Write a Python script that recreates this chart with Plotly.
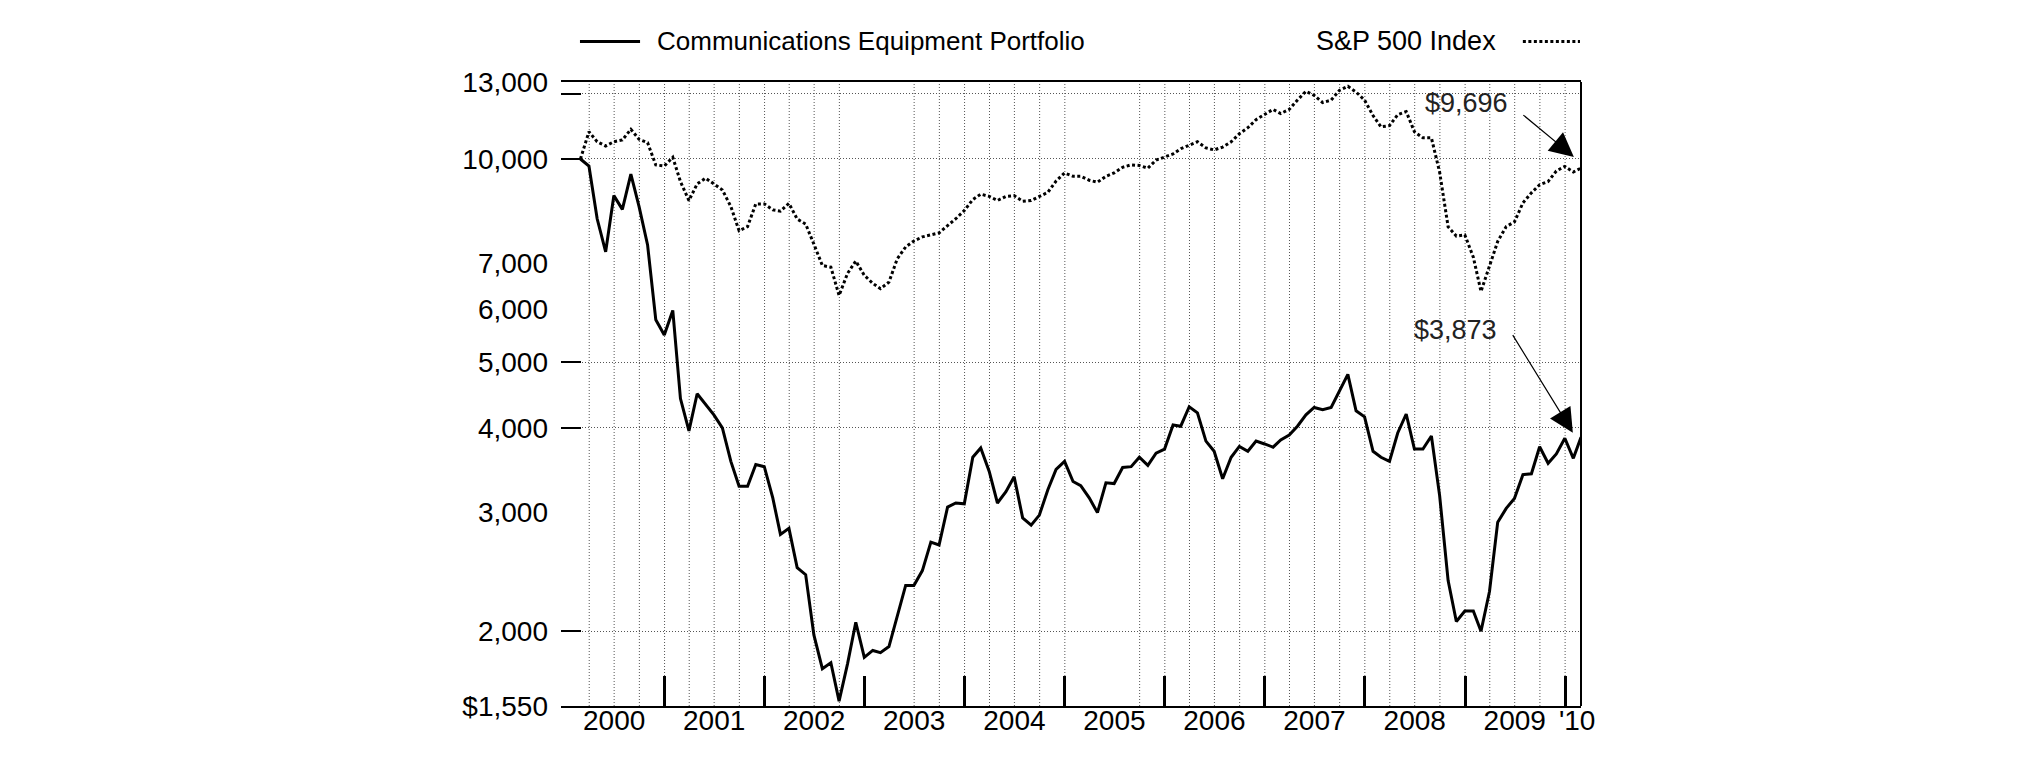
import pandas as pd
import plotly.graph_objects as go

# ---------------- data ----------------
start_month = "2000-02-01"
n_months = 121

portfolio = [
    10000, 9761, 8157, 7287, 8827, 8422, 9495, 8503, 7460, 5781, 5487, 5968,
    4419, 3958, 4492, 4328, 4181, 4000, 3568, 3277, 3277, 3529, 3504, 3150,
    2782, 2840, 2484, 2425, 1975, 1760, 1796, 1576, 1791, 2062, 1829, 1873,
    1859, 1898, 2099, 2338, 2338, 2459, 2709, 2683, 3053, 3096, 3088, 3618,
    3735, 3447, 3096, 3217, 3386, 2943, 2871, 2971, 3240, 3471, 3568, 3331,
    3285, 3151, 2996, 3317, 3308, 3495, 3504, 3618, 3520, 3668, 3720, 4040,
    4022, 4298, 4210, 3823, 3693, 3363, 3618, 3755, 3693, 3823, 3786, 3745,
    3839, 3903, 4022, 4181, 4287, 4256, 4287, 4542, 4799, 4239, 4153, 3693,
    3618, 3568, 3930, 4193, 3720, 3720, 3890, 3175, 2377, 2067, 2143, 2143,
    2000, 2290, 2900, 3040, 3145, 3410, 3420, 3750, 3545, 3660, 3860, 3605,
    3873,
]

sp500 = [
    10000, 10973, 10606, 10452, 10606, 10668, 11064, 10693, 10570, 9798, 9765, 10058,
    9258, 8679, 9185, 9366, 9185, 8999, 8502, 7830, 7943, 8581, 8581, 8407,
    8370, 8595, 8150, 8010, 7480, 6955, 6916, 6281, 6773, 7062, 6727, 6545,
    6427, 6572, 7111, 7409, 7562, 7668, 7721, 7774, 7970, 8157, 8387, 8707,
    8870, 8803, 8681, 8803, 8827, 8657, 8681, 8803, 8925, 9276, 9535, 9428,
    9428, 9301, 9238, 9428, 9535, 9721, 9802, 9780, 9692, 9963, 10062, 10172,
    10356, 10490, 10603, 10385, 10314, 10413, 10603, 10899, 11124, 11436, 11629, 11841,
    11675, 11841, 12222, 12597, 12421, 12121, 12222, 12632, 12810, 12563, 12222, 11596,
    11158, 11204, 11629, 11754, 10973, 10747, 10747, 9561, 7937, 7689, 7721, 7155,
    6367, 6950, 7550, 7940, 8070, 8610, 8910, 9160, 9260, 9600, 9750, 9566,
    9696,
]

series_names = ["Communications Equipment Portfolio", "S&P 500 Index"]
end_labels = ["$3,873", "$9,696"]

y_tick_values = [1550, 2000, 3000, 4000, 5000, 6000, 7000, 10000, 13000]
y_tick_labels = ["$1,550", "2,000", "3,000", "4,000", "5,000", "6,000", "7,000", "10,000", "13,000"]
y_grid_values = [2000, 4000, 5000, 10000, 12500]

year_label_dates = [f"{y}-07-01" for y in range(2000, 2010)] + ["2010-02-14"]
year_labels = [str(y) for y in range(2000, 2010)] + ["'10"]
year_tick_dates = [f"{y}-01-01" for y in range(2001, 2011)]
quarter_dates = [d.strftime("%Y-%m-%d") for d in pd.date_range("2000-04-01", "2010-01-01", freq="QS")]
missing_quarters = ["2003-01-01", "2003-04-01", "2005-04-01", "2005-07-01"]

# ---------------- figure ----------------
dates = pd.date_range(start_month, periods=n_months, freq="MS") + pd.offsets.MonthEnd(0)
FONT = "Liberation Sans, Arial, Helvetica, sans-serif"
DOTS = "3px,2.5px"

fig = go.Figure()
fig.add_trace(go.Scatter(x=dates, y=sp500, mode="lines", name=series_names[1],
                         line=dict(color="black", width=3, dash=DOTS),
                         showlegend=False))
fig.add_trace(go.Scatter(x=dates, y=portfolio, mode="lines", name=series_names[0],
                         line=dict(color="black", width=3),
                         showlegend=False))

shapes = []
for q in quarter_dates:
    if q in missing_quarters:
        continue
    shapes.append(dict(type="line", xref="x", yref="paper", x0=q, x1=q, y0=0, y1=1,
                       line=dict(color="#555", width=1, dash="1px,2px"), layer="below"))
# right frame
shapes.append(dict(type="line", xref="paper", yref="paper", x0=1, x1=1, y0=0, y1=1,
                   line=dict(color="black", width=2)))
# legend samples
shapes.append(dict(type="line", xref="paper", yref="paper", x0=0.0186, x1=0.0775,
                   y0=1.065, y1=1.065, line=dict(color="black", width=3)))
shapes.append(dict(type="line", xref="paper", yref="paper", x0=0.943, x1=0.999,
                   y0=1.065, y1=1.065, line=dict(color="black", width=3, dash=DOTS)))

annotations = [
    dict(xref="paper", yref="paper", x=0.092, y=1.065, text=series_names[0],
         showarrow=False, xanchor="left", yanchor="middle",
         font=dict(family=FONT, size=26, color="black")),
    dict(xref="paper", yref="paper", x=0.9186, y=1.065, text=series_names[1],
         showarrow=False, xanchor="right", yanchor="middle",
         font=dict(family=FONT, size=27, color="black")),
    dict(xref="paper", yref="paper", x=0.888, y=0.966, text=end_labels[1],
         showarrow=False, xanchor="center", yanchor="middle",
         font=dict(family=FONT, size=27, color="#222")),
    dict(xref="paper", yref="paper", x=0.877, y=0.602, text=end_labels[0],
         showarrow=False, xanchor="center", yanchor="middle",
         font=dict(family=FONT, size=27, color="#222")),
    dict(xref="paper", yref="paper", x=0.993, y=0.880, text="", showarrow=True,
         ax=-52, ay=-43, arrowhead=2, arrowsize=4, arrowwidth=1.2, arrowcolor="black"),
    dict(xref="paper", yref="paper", x=0.992, y=0.438, text="", showarrow=True,
         ax=-61, ay=-99, arrowhead=2, arrowsize=4, arrowwidth=1.2, arrowcolor="black"),
]

# the page body has an 8px default margin, so the figure is 8px smaller
fig.update_layout(
    width=2017, height=753,
    margin=dict(l=553, r=444, t=74, b=55),
    paper_bgcolor="white", plot_bgcolor="white",
    font=dict(family=FONT, color="black"),
    shapes=shapes, annotations=annotations,
    xaxis=dict(
        type="date", range=["1999-12-20", "2010-02-28"],
        tickmode="array", tickvals=year_label_dates, ticktext=year_labels,
        ticks="", ticklen=0, showgrid=False, zeroline=False,
        showline=True, linecolor="black", linewidth=2, mirror=True,
        tickfont=dict(family=FONT, size=28, color="black"),
        ticklabelstandoff=-12,
        minor=dict(tickmode="array", tickvals=year_tick_dates, ticks="inside",
                   ticklen=30, tickwidth=3, tickcolor="black", showgrid=False),
    ),
    yaxis=dict(
        type="log", range=[3.19033, 4.11394],
        tickmode="array", tickvals=y_tick_values, ticktext=y_tick_labels,
        ticks="", ticklen=0, showgrid=False, zeroline=False, showline=False,
        tickfont=dict(family=FONT, size=28, color="black"),
        ticklabelstandoff=12,
        minor=dict(tickmode="array", tickvals=y_grid_values, ticks="inside",
                   ticklen=20, tickwidth=1.5, tickcolor="black",
                   showgrid=True, gridcolor="#555", griddash="1px,2px", gridwidth=1),
    ),
)

fig.write_html("out.html")
